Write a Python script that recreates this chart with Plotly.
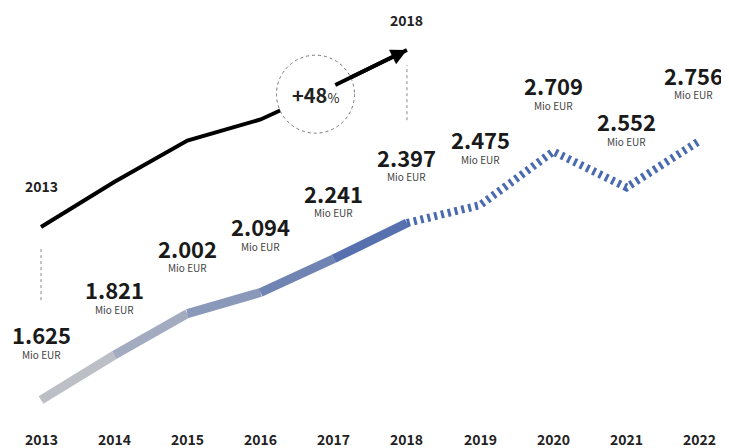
import plotly.graph_objects as go

years = [2013, 2014, 2015, 2016, 2017, 2018, 2019, 2020, 2021, 2022]
values = [1625, 1821, 2002, 2094, 2241, 2397, 2475, 2709, 2552, 2756]
unit_label = "Mio EUR"
actual_end_year = 2018

FONT = "Noto Sans CJK SC, Noto Sans, sans-serif"
GRAY = (201, 201, 201)
BLUE = (74, 102, 171)


def fmt(v):
    return f"{v:,}".replace(",", ".")


def mix(t):
    c = [round(GRAY[i] + (BLUE[i] - GRAY[i]) * t) for i in range(3)]
    return f"rgb({c[0]},{c[1]},{c[2]})"


idx_end = years.index(actual_end_year)
fig = go.Figure()

# gradient solid segments (actual values)
nseg = idx_end
for i in range(nseg):
    t = (i + 0.5) / nseg
    fig.add_trace(go.Scatter(
        x=years[i:i + 2], y=values[i:i + 2], mode="lines",
        line=dict(color=mix(t), width=9), hoverinfo="skip", showlegend=False))

# dotted forecast
fig.add_trace(go.Scatter(
    x=years[idx_end:], y=values[idx_end:], mode="lines",
    line=dict(color="rgb(74,106,176)", width=8, dash="3px,4px"),
    hoverinfo="skip", showlegend=False))

# black growth line on shifted axis
fig.add_trace(go.Scatter(
    x=years[:idx_end + 1], y=values[:idx_end + 1], mode="lines", yaxis="y2",
    line=dict(color="black", width=4), hoverinfo="skip", showlegend=False))

ann = []
# arrow head
ann.append(dict(x=years[idx_end], y=values[idx_end], xref="x", yref="y2",
                ax=years[idx_end - 1], ay=values[idx_end - 1], axref="x", ayref="y2",
                showarrow=True, arrowhead=2, arrowsize=0.8, arrowwidth=4,
                arrowcolor="black", text="", standoff=0))
# year labels at black line ends
ann.append(dict(x=years[0], y=values[0], xref="x", yref="y2", text=f"<b>{years[0]}</b>",
                showarrow=False, yshift=41, font=dict(family=FONT, size=14, color="#222")))
ann.append(dict(x=years[idx_end], y=values[idx_end], xref="x", yref="y2",
                text=f"<b>{years[idx_end]}</b>",
                showarrow=False, yshift=30, font=dict(family=FONT, size=14, color="#222")))

# value labels
for i, (yr, v) in enumerate(zip(years, values)):
    xs = -6 if i == len(years) - 1 else 0
    ann.append(dict(x=yr, y=v, xref="x", yref="y", text=f"<b>{fmt(v)}</b>",
                    showarrow=False, yshift=66, xshift=xs,
                    font=dict(family=FONT, size=22, color="#1a1a1a")))
    ann.append(dict(x=yr, y=v, xref="x", yref="y", text=unit_label,
                    showarrow=False, yshift=46, xshift=xs,
                    font=dict(family=FONT, size=10, color="#444")))

# bottom year axis labels
for yr in years:
    ann.append(dict(x=yr, y=0.021, xref="x", yref="paper", text=f"<b>{yr}</b>",
                    showarrow=False, yanchor="middle",
                    font=dict(family=FONT, size=14, color="#222")))

# growth percentage
growth = round((values[idx_end] / values[0] - 1) * 100)
cx = 2016.75
cy = values[3] + (values[4] - values[3]) * 0.75
ann.append(dict(x=cx, y=cy, xref="x", yref="y2",
                text=f"<b>+{growth}</b><span style='font-size:13px'>%</span>",
                showarrow=False, font=dict(family=FONT, size=20, color="#222")))

shapes = [
    dict(type="circle", xref="x", yref="y2", xsizemode="pixel", ysizemode="pixel",
         xanchor=cx, yanchor=cy, x0=-39, x1=39, y0=-39, y1=39,
         fillcolor="white", line=dict(color="#777", width=1, dash="dot"), layer="above"),
    dict(type="line", xref="x", yref="paper", x0=years[0], x1=years[0], y0=0.336, y1=0.457,
         line=dict(color="#888", width=1, dash="dot")),
    dict(type="line", xref="x", yref="paper", x0=years[idx_end], x1=years[idx_end],
         y0=0.745, y1=0.870, line=dict(color="#888", width=1, dash="dot")),
]

px_per_unit = 0.2293
offset = 173 / px_per_unit
yr_lo, yr_hi = 1415.7, 3334.6

fig.update_layout(
    width=721, height=440, margin=dict(l=0, r=0, t=0, b=0),
    paper_bgcolor="white", plot_bgcolor="white",
    xaxis=dict(range=[2012.549, 2022.40], visible=False, fixedrange=True),
    yaxis=dict(range=[yr_lo, yr_hi], visible=False, fixedrange=True),
    yaxis2=dict(range=[yr_lo - offset, yr_hi - offset], overlaying="y", visible=False,
                fixedrange=True),
    annotations=ann, shapes=shapes, showlegend=False,
)

fig.write_html("out.html", config={"displayModeBar": False})
